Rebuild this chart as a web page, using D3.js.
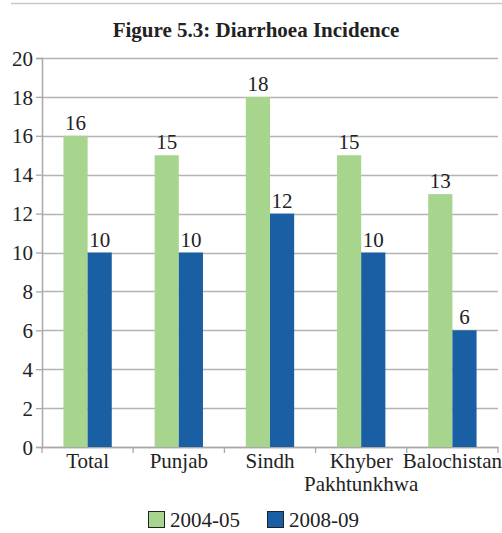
<!DOCTYPE html>
<html>
<head>
<meta charset="utf-8">
<script src="https://cdn.jsdelivr.net/npm/d3@7"></script>
<style>
  body { margin: 0; background: #fff; overflow: hidden; }
  svg { display: block; }
  text { font-family: "Liberation Serif", serif; }
</style>
</head>
<body>
<svg id="chart" width="502" height="533"></svg>
<script>
const categories = ["Total", "Punjab", "Sindh", "Khyber\nPakhtunkhwa", "Balochistan"];
const seriesNames = ["2004-05", "2008-09"];
const values0405 = [16, 15, 18, 15, 13];
const values0809 = [10, 10, 12, 10, 6];
const yTicks = [0, 2, 4, 6, 8, 10, 12, 14, 16, 18, 20];

const colors = ["#a8d58e", "#1a5fa3"];
const font = "Liberation Serif";
const fs = "21px";

const svg = d3.select("#chart");
const margin = { top: 58, right: 4, bottom: 86, left: 42 };
const width = 502 - margin.left - margin.right;
const height = 533 - margin.top - margin.bottom;

// thin rule at the very top
svg.append("line")
  .attr("x1", 11).attr("x2", 502)
  .attr("y1", 3.5).attr("y2", 3.5)
  .attr("stroke", "#c8c8c8").attr("stroke-width", 1.5);

svg.append("text")
  .attr("x", 256).attr("y", 37)
  .attr("text-anchor", "middle")
  .attr("font-family", font)
  .style("font-weight", "bold")
  .style("font-size", "21px")
  .style("fill", "#222")
  .text("Figure 5.3: Diarrhoea Incidence");

const g = svg.append("g").attr("transform", `translate(${margin.left},${margin.top})`);

const x = d3.scaleBand().domain(categories).range([0, width]).paddingInner(0.47).paddingOuter(0.235);
const x1 = d3.scaleBand().domain(seriesNames).range([0, x.bandwidth()]);
const y = d3.scaleLinear().domain([0, 20]).range([height, 0]);

// gridlines
g.append("g")
  .selectAll("line")
  .data(yTicks)
  .join("line")
  .attr("x1", 0).attr("x2", width)
  .attr("y1", (d) => Math.round(y(d)) + 0.5)
  .attr("y2", (d) => Math.round(y(d)) + 0.5)
  .attr("stroke", "#b4b4b4")
  .attr("stroke-width", 1.3);

// y axis
const yAxis = g.append("g")
  .call(d3.axisLeft(y).tickValues(yTicks).tickSize(6).tickPadding(3))
  .attr("font-family", font);
yAxis.select(".domain").attr("stroke", "#a8a8a8").attr("stroke-width", 1.5);
yAxis.selectAll(".tick line").attr("stroke", "#a8a8a8").attr("stroke-width", 1.3);
yAxis.selectAll(".tick text")
  .attr("dy", "0.34em")
  .style("font-size", fs).style("fill", "#222");

// x axis
const xAxis = g.append("g")
  .attr("transform", `translate(0,${height})`)
  .call(d3.axisBottom(x).tickSize(0).tickFormat(""));
xAxis.select(".domain").attr("stroke", "#a8a8a8").attr("stroke-width", 1.5);

const step = x.step();
const boundaries = d3.range(categories.length + 1).map((i) => x(categories[0]) - (step - x.bandwidth()) / 2 + i * step);
xAxis.selectAll(".boundary")
  .data(boundaries)
  .join("line")
  .attr("x1", (d) => d).attr("x2", (d) => d)
  .attr("y1", 0).attr("y2", 6)
  .attr("stroke", "#a8a8a8").attr("stroke-width", 1.3);

// category labels
const labels = g.append("g")
  .attr("font-family", font)
  .selectAll("text")
  .data(categories)
  .join("text")
  .attr("x", (d) => x(d) + x.bandwidth() / 2)
  .attr("y", height + 21)
  .attr("text-anchor", "middle")
  .style("font-size", fs).style("fill", "#222");
labels.selectAll("tspan")
  .data((d) => d.split("\n"))
  .join("tspan")
  .attr("x", function () { return d3.select(this.parentNode).attr("x"); })
  .attr("dy", (d, i) => (i === 0 ? 0 : 23))
  .text((d) => d);

// bars
const rows = categories.map((c, i) => ({ cat: c, vals: [values0405[i], values0809[i]] }));
const groups = g.append("g")
  .attr("font-family", font)
  .selectAll("g")
  .data(rows)
  .join("g")
  .attr("transform", (d) => `translate(${x(d.cat)},0)`);

groups.selectAll("rect")
  .data((d) => d.vals.map((v, i) => ({ key: seriesNames[i], v, i })))
  .join("rect")
  .attr("x", (d) => x1(d.key))
  .attr("y", (d) => y(d.v))
  .attr("width", x1.bandwidth())
  .attr("height", (d) => height - y(d.v))
  .attr("fill", (d) => colors[d.i]);

groups.selectAll("text")
  .data((d) => d.vals.map((v, i) => ({ key: seriesNames[i], v, i })))
  .join("text")
  .attr("x", (d) => x1(d.key) + x1.bandwidth() / 2)
  .attr("y", (d) => y(d.v) - 6)
  .attr("text-anchor", "middle")
  .style("font-size", fs).style("fill", "#222")
  .text((d) => d.v);

// legend
const legendX = [148, 267];
const legend = svg.append("g")
  .attr("font-family", font)
  .selectAll("g")
  .data(seriesNames)
  .join("g")
  .attr("transform", (d, i) => `translate(${legendX[i]},511)`);
legend.append("rect")
  .attr("x", 0.5).attr("y", 0.5)
  .attr("width", 16).attr("height", 16)
  .attr("fill", (d, i) => colors[i])
  .attr("stroke", "#222").attr("stroke-width", 1);
legend.append("text")
  .attr("x", 22).attr("y", 16)
  .style("font-size", "21px").style("fill", "#222")
  .text((d) => d);
</script>
</body>
</html>
